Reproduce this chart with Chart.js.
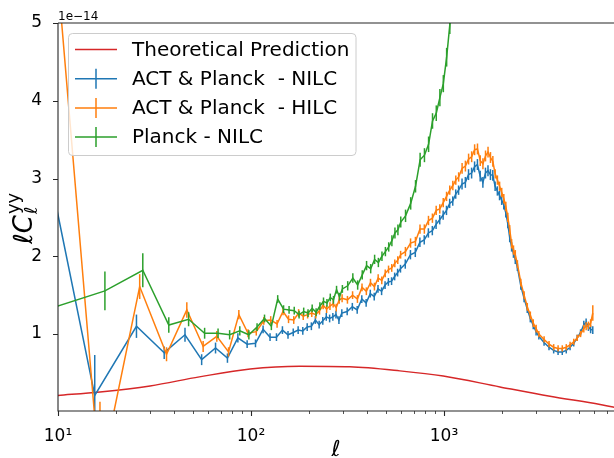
<!DOCTYPE html>
<html lang="en">
<head>
<meta charset="UTF-8" />
<title>Compton-y power spectrum</title>
<script src="https://cdn.jsdelivr.net/npm/chart.js"></script>
<style>
  html, body { margin: 0; padding: 0; background: #fff; overflow: hidden; }
  #wrap { width: 614px; height: 458px; position: relative; }
</style>
</head>
<body>
<div id="wrap"><canvas id="yy" width="614" height="458"></canvas></div>
<script>
// bin centres in ell, shared by all three measured spectra
const ells = [
  5.5, 15.5, 25.5, 35.5, 45.5, 55.5, 65.5, 75.5, 85.5, 95.5,
  105.5, 115.5, 125.5, 135.5, 145.5, 155.5, 165.5, 175.5, 185.5, 195.5,
  205.5, 215.5, 225.5, 235.5, 245.5, 255.5, 265.5, 275.5, 285.5, 295.5,
  315, 335, 355, 375, 395, 415, 435, 455, 475, 495, 515, 535, 555, 575, 595,
  630, 670, 710, 750, 790, 830, 870, 910, 950, 990, 1030, 1070, 1110, 1150, 1190,
  1240, 1290, 1340, 1390, 1440, 1490, 1540, 1590, 1640, 1690, 1740, 1790,
  1840, 1890, 1940, 1990, 2040, 2090, 2140, 2190, 2240, 2290, 2340,
  2400, 2500, 2600, 2700, 2800, 2900, 3000, 3100, 3300, 3500, 3700, 3900,
  4100, 4300, 4500, 4700, 4900, 5100, 5300, 5450, 5600, 5750, 5900
];
// small ell offsets so the three spectra do not sit on top of each other
const nilcShift = 0, hilcShift = 1, planckShift = 2;

// ell C_ell^yy in units of 1e-14
const nilcVals = [
  5.7, 0.21, 1.10, 0.76, 0.99, 0.67, 0.82, 0.69, 0.95, 0.87,
  0.88, 1.06, 0.96, 0.96, 1.05, 0.99, 1.02, 1.05, 1.04, 1.09,
  1.10, 1.18, 1.12, 1.17, 1.22, 1.20, 1.22, 1.25, 1.18, 1.27,
  1.29, 1.35, 1.31, 1.45, 1.40, 1.52, 1.48, 1.58, 1.55, 1.63, 1.67, 1.68, 1.74, 1.79, 1.84,
  1.90, 2.02, 2.05, 2.18, 2.21, 2.30, 2.33, 2.41, 2.47, 2.53, 2.59, 2.68, 2.71, 2.80, 2.85,
  2.93, 2.95, 3.05, 3.07, 3.15, 3.18, 3.03, 2.95, 3.07, 3.10, 3.05, 3.04,
  2.90, 2.84, 2.78, 2.72, 2.66, 2.56, 2.42, 2.24, 2.12, 2.04, 1.96,
  1.86, 1.62, 1.46, 1.32, 1.20, 1.11, 1.03, 0.97, 0.89, 0.83, 0.79, 0.77,
  0.77, 0.79, 0.83, 0.88, 0.95, 1.02, 1.12, 1.15, 1.09, 1.06, 1.05
];
const nilcErr = [
  1.0, 0.52, 0.15, 0.08, 0.09, 0.07, 0.07, 0.06, 0.06, 0.05,
  0.05, 0.05, 0.05, 0.05, 0.05, 0.05, 0.05, 0.05, 0.05, 0.05,
  0.05, 0.05, 0.05, 0.05, 0.05, 0.05, 0.05, 0.05, 0.05, 0.05,
  0.05, 0.05, 0.05, 0.05, 0.05, 0.05, 0.05, 0.05, 0.05, 0.05, 0.05, 0.05, 0.05, 0.05, 0.05,
  0.06, 0.06, 0.06, 0.06, 0.06, 0.06, 0.06, 0.06, 0.06, 0.06, 0.06, 0.06, 0.06, 0.06, 0.06,
  0.07, 0.07, 0.07, 0.07, 0.07, 0.07, 0.07, 0.07, 0.07, 0.07, 0.07, 0.07,
  0.06, 0.06, 0.06, 0.06, 0.06, 0.06, 0.06, 0.06, 0.06, 0.06, 0.06,
  0.05, 0.05, 0.05, 0.05, 0.05, 0.05, 0.05, 0.04, 0.04, 0.04, 0.04, 0.04,
  0.04, 0.04, 0.04, 0.04, 0.04, 0.04, 0.05, 0.05, 0.05, 0.05, 0.05
];
const hilcVals = [
  11.1, -0.87, 1.61, 0.74, 1.31, 0.84, 0.97, 0.77, 1.25, 1.01,
  1.03, 1.17, 1.18, 1.13, 1.29, 1.19, 1.18, 1.27, 1.23, 1.25,
  1.27, 1.25, 1.30, 1.37, 1.32, 1.36, 1.39, 1.34, 1.44, 1.46,
  1.44, 1.50, 1.45, 1.60, 1.55, 1.66, 1.61, 1.72, 1.69, 1.78, 1.83, 1.85, 1.91, 1.95, 2.02,
  2.06, 2.17, 2.19, 2.35, 2.35, 2.46, 2.49, 2.59, 2.61, 2.69, 2.77, 2.85, 2.91, 2.98, 3.02,
  3.13, 3.16, 3.25, 3.28, 3.37, 3.38, 3.23, 3.19, 3.29, 3.34, 3.27, 3.22,
  3.06, 2.98, 2.90, 2.82, 2.74, 2.64, 2.50, 2.34, 2.16, 2.08, 2.02,
  1.90, 1.66, 1.50, 1.35, 1.24, 1.14, 1.07, 1.00, 0.93, 0.87, 0.83, 0.815,
  0.815, 0.83, 0.86, 0.90, 0.95, 1.00, 1.07, 1.10, 1.11, 1.14, 1.27
];
const hilcErr = [
  1.0, 1.0, 0.16, 0.09, 0.10, 0.07, 0.07, 0.06, 0.06, 0.05,
  0.05, 0.05, 0.05, 0.05, 0.05, 0.05, 0.05, 0.05, 0.05, 0.05,
  0.05, 0.05, 0.05, 0.05, 0.05, 0.05, 0.05, 0.05, 0.05, 0.05,
  0.05, 0.05, 0.05, 0.05, 0.05, 0.05, 0.05, 0.05, 0.05, 0.05, 0.05, 0.05, 0.05, 0.05, 0.05,
  0.06, 0.06, 0.06, 0.06, 0.06, 0.06, 0.06, 0.06, 0.06, 0.06, 0.06, 0.06, 0.06, 0.06, 0.06,
  0.07, 0.07, 0.07, 0.07, 0.07, 0.07, 0.07, 0.07, 0.07, 0.07, 0.07, 0.07,
  0.06, 0.06, 0.06, 0.06, 0.06, 0.06, 0.06, 0.06, 0.06, 0.06, 0.06,
  0.05, 0.05, 0.05, 0.05, 0.05, 0.05, 0.05, 0.04, 0.04, 0.04, 0.04, 0.04,
  0.04, 0.04, 0.04, 0.04, 0.04, 0.04, 0.05, 0.05, 0.05, 0.05, 0.10
];
// Planck-only spectrum runs off the top just above ell = 1000
const planckVals = [
  1.26, 1.555, 1.82, 1.115, 1.19, 1.01, 1.01, 0.99, 1.04, 0.99,
  1.09, 1.20, 1.10, 1.45, 1.32, 1.31, 1.30, 1.25, 1.29, 1.27,
  1.33, 1.28, 1.36, 1.42, 1.40, 1.47, 1.44, 1.57, 1.48, 1.58,
  1.62, 1.72, 1.63, 1.76, 1.88, 1.84, 1.96, 1.92, 2.00, 2.06, 2.12, 2.20, 2.30, 2.34, 2.44,
  2.52, 2.68, 2.90, 3.24, 3.30, 3.44, 3.74, 3.84, 4.04, 4.22, 4.56, 4.98, 5.40
];
const planckErr = [
  0.30, 0.25, 0.22, 0.10, 0.09, 0.07, 0.06, 0.06, 0.06, 0.06,
  0.05, 0.05, 0.05, 0.05, 0.05, 0.05, 0.05, 0.05, 0.05, 0.05,
  0.05, 0.05, 0.05, 0.05, 0.05, 0.05, 0.05, 0.05, 0.05, 0.05,
  0.06, 0.06, 0.06, 0.06, 0.06, 0.06, 0.06, 0.06, 0.06, 0.06, 0.06, 0.07, 0.07, 0.07, 0.07,
  0.08, 0.08, 0.08, 0.09, 0.09, 0.10, 0.10, 0.10, 0.11, 0.11, 0.12, 0.12, 0.12
];
const theoryEll = [8, 10, 16.5, 30, 54, 99, 179, 325, 591, 991, 1950, 3540, 6440, 7520, 9000];
const theoryVals = [0.19, 0.21, 0.255, 0.333, 0.449, 0.55, 0.585, 0.578, 0.526, 0.46, 0.32, 0.20, 0.093, 0.06, 0.03];

const xTickVals = [10, 100, 1000];
const xTickLabels = ['10\u00b9', '10\u00b2', '10\u00b3'];
const xMinorTicks = [20, 30, 40, 50, 60, 70, 80, 90, 200, 300, 400, 500, 600, 700, 800, 900,
  2000, 3000, 4000, 5000, 6000, 7000];
const yTickVals = [1, 2, 3, 4, 5];

const colors = { theory: '#d62728', nilc: '#1f77b4', hilc: '#ff7f0e', planck: '#2ca02c' };
const FONT = '"DejaVu Sans", sans-serif';

function pts(xs, ys, shift) {
  return ys.map((v, i) => ({ x: xs[i] + shift, y: v }));
}

// vertical error bars, drawn right after their own line so stacking matches
const errorBars = {
  id: 'errorBars',
  afterDatasetDraw(chart, args) {
    const ds = chart.data.datasets[args.index];
    if (!ds.yErr) return;
    const { ctx, chartArea: a } = chart;
    const x = chart.scales.x, y = chart.scales.y;
    ctx.save();
    ctx.beginPath();
    ctx.rect(a.left, a.top, a.right - a.left, a.bottom - a.top);
    ctx.clip();
    ctx.strokeStyle = ds.borderColor;
    ctx.lineWidth = 1.5;
    ds.data.forEach((p, i) => {
      const px = x.getPixelForValue(p.x);
      ctx.beginPath();
      ctx.moveTo(px, y.getPixelForValue(p.y - ds.yErr[i]));
      ctx.lineTo(px, y.getPixelForValue(p.y + ds.yErr[i]));
      ctx.stroke();
    });
    ctx.restore();
  }
};

// spines, tick marks, axis labels, offset text and the legend box
const frame = {
  id: 'frame',
  afterDatasetsDraw(chart) {
    const { ctx, chartArea: a } = chart;
    const x = chart.scales.x, y = chart.scales.y;
    ctx.save();
    ctx.strokeStyle = '#262626';
    ctx.lineWidth = 1.1;
    ctx.beginPath();
    ctx.moveTo(a.left, a.top); ctx.lineTo(a.right + 2, a.top);
    ctx.moveTo(a.left, a.top); ctx.lineTo(a.left, a.bottom);
    ctx.lineTo(a.right + 2, a.bottom);
    ctx.stroke();
    ctx.beginPath();
    xTickVals.forEach(v => {
      const px = Math.round(x.getPixelForValue(v)) + 0.5;
      ctx.moveTo(px, a.bottom); ctx.lineTo(px, a.bottom + 5);
    });
    yTickVals.forEach(v => {
      const py = Math.round(y.getPixelForValue(v)) + 0.5;
      ctx.moveTo(a.left, py); ctx.lineTo(a.left - 5, py);
    });
    ctx.stroke();
    ctx.lineWidth = 0.8;
    ctx.beginPath();
    xMinorTicks.forEach(v => {
      const px = Math.round(x.getPixelForValue(v)) + 0.5;
      ctx.moveTo(px, a.bottom); ctx.lineTo(px, a.bottom + 3);
    });
    ctx.stroke();
    ctx.restore();
  },
  afterDraw(chart) {
    const { ctx, chartArea: a } = chart;
    ctx.save();
    ctx.fillStyle = '#000';

    // offset text
    ctx.font = '12px ' + FONT;
    ctx.textBaseline = 'alphabetic';
    ctx.textAlign = 'left';
    ctx.fillText('1e\u221214', a.left, 20);

    // x label
    ctx.font = 'italic 22px ' + FONT;
    ctx.textAlign = 'center';
    ctx.fillText('\u2113', (a.left + a.right) / 2, 456);

    // y label: l C_l^yy, rotated
    ctx.save();
    const big = 'italic 26px ' + FONT, small = 'italic 18px ' + FONT, smallUp = '18px ' + FONT;
    ctx.font = big;
    const w1 = ctx.measureText('\u2113C').width;
    ctx.translate(32, 244);
    ctx.rotate(-Math.PI / 2);
    ctx.textAlign = 'left';
    ctx.font = big;
    ctx.fillText('\u2113C', 0, 0);
    ctx.font = small;
    ctx.fillText('\u2113', w1 + 1, 5);
    ctx.font = smallUp;
    ctx.fillText('yy', w1 + 1, -13);
    ctx.restore();

    // legend
    const bx = 68.5, by = 33.5, bw = 287.5, bh = 122, r = 4;
    ctx.beginPath();
    ctx.moveTo(bx + r, by);
    ctx.arcTo(bx + bw, by, bx + bw, by + bh, r);
    ctx.arcTo(bx + bw, by + bh, bx, by + bh, r);
    ctx.arcTo(bx, by + bh, bx, by, r);
    ctx.arcTo(bx, by, bx + bw, by, r);
    ctx.closePath();
    ctx.fillStyle = 'rgba(255,255,255,0.8)';
    ctx.fill();
    ctx.strokeStyle = '#cccccc';
    ctx.lineWidth = 1;
    ctx.stroke();

    const items = [
      { label: 'Theoretical Prediction', color: colors.theory, err: false },
      { label: 'ACT & Planck  - NILC', color: colors.nilc, err: true },
      { label: 'ACT & Planck  - HILC', color: colors.hilc, err: true },
      { label: 'Planck - NILC', color: colors.planck, err: true }
    ];
    ctx.font = '20px ' + FONT;
    ctx.textAlign = 'left';
    ctx.textBaseline = 'middle';
    items.forEach((it, i) => {
      const cy = 49.5 + i * 29.2;
      ctx.strokeStyle = it.color;
      ctx.lineWidth = 1.5;
      ctx.beginPath();
      ctx.moveTo(75, cy); ctx.lineTo(117, cy);
      if (it.err) { ctx.moveTo(96, cy - 10); ctx.lineTo(96, cy + 10); }
      ctx.stroke();
      ctx.fillStyle = '#000';
      ctx.fillText(it.label, 132, cy + 1);
    });
    ctx.restore();
  }
};

const tickFont = { family: 'DejaVu Sans', size: 17 };

new Chart(document.getElementById('yy'), {
  type: 'line',
  data: {
    datasets: [
      { label: 'Planck - NILC', data: pts(ells, planckVals, planckShift), yErr: planckErr,
        borderColor: colors.planck },
      { label: 'ACT & Planck  - HILC', data: pts(ells, hilcVals, hilcShift), yErr: hilcErr,
        borderColor: colors.hilc },
      { label: 'ACT & Planck  - NILC', data: pts(ells, nilcVals, nilcShift), yErr: nilcErr,
        borderColor: colors.nilc },
      { label: 'Theoretical Prediction', data: pts(theoryEll, theoryVals, 0),
        borderColor: colors.theory, cubicInterpolationMode: 'monotone' }
    ]
  },
  options: {
    responsive: false,
    animation: false,
    layout: { padding: { top: 23, right: 0, left: 0, bottom: 0 } },
    plugins: { legend: { display: false }, tooltip: { enabled: false } },
    elements: {
      point: { radius: 0, hoverRadius: 0 },
      line: { borderWidth: 1.5, tension: 0, fill: false }
    },
    scales: {
      x: {
        type: 'logarithmic', min: 10, max: 7600,
        grid: { display: false }, border: { display: false },
        afterBuildTicks: s => { s.ticks = xTickVals.map(v => ({ value: v })); },
        afterFit: s => { s.height = 47; },
        ticks: {
          autoSkip: false, maxRotation: 0, padding: 7, color: '#000', font: tickFont,
          callback: v => xTickLabels[xTickVals.indexOf(v)]
        }
      },
      y: {
        type: 'linear', min: 0.01, max: 5,
        grid: { display: false }, border: { display: false },
        afterBuildTicks: s => { s.ticks = yTickVals.map(v => ({ value: v })); },
        afterFit: s => { s.width = 58; },
        ticks: { padding: 8, color: '#000', font: tickFont, callback: v => String(v) }
      }
    }
  },
  plugins: [errorBars, frame]
});
</script>
</body>
</html>
